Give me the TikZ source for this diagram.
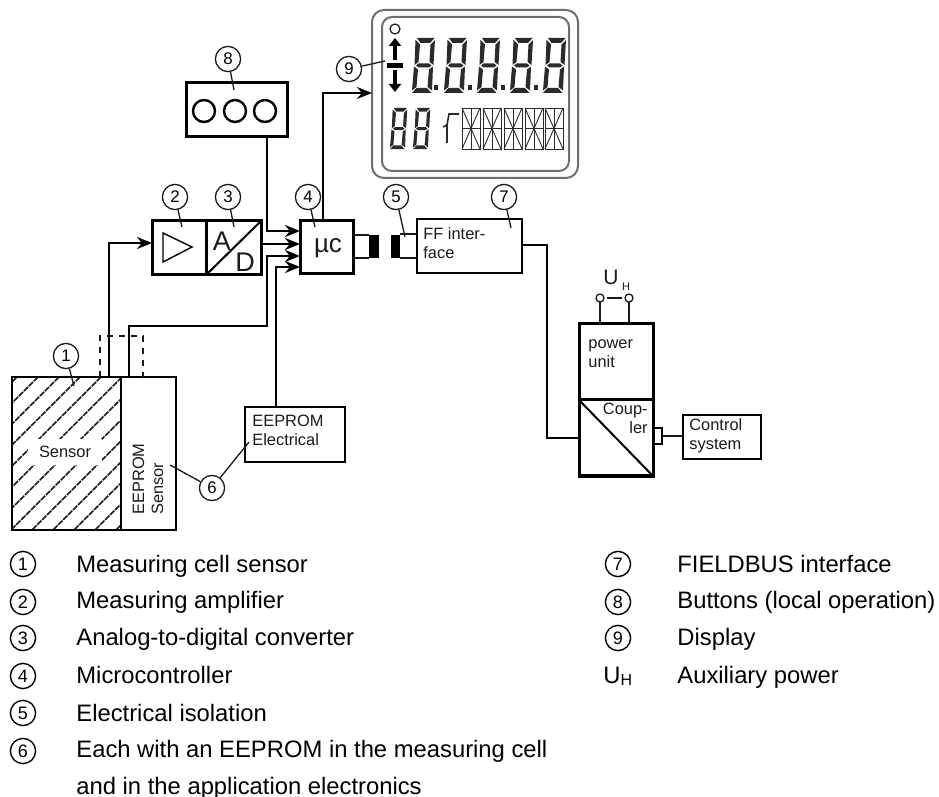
\documentclass[tikz,border=0pt]{standalone}
\usepackage{fontspec}
\setmainfont{Liberation Sans}
\usepackage{xcolor}
\usepackage{tikz}
\usetikzlibrary{arrows.meta}
\definecolor{ink}{HTML}{1A1A1A}
\definecolor{bezel}{HTML}{6E6E6E}
\definecolor{lcd}{HTML}{2B2B2B}
\tikzset{
  lab/.style={text=ink, font=\fontsize{8.2}{9.4}\selectfont, inner sep=0pt, align=left},
  legText/.style={text=black, font=\fontsize{11.9}{13}\selectfont, inner sep=0pt, anchor=base west},
  blockBox/.style={draw=black, line width=1.5pt, inner sep=0pt, outer sep=0pt},
  thinBox/.style={draw=black, line width=1.1pt, inner sep=0pt, outer sep=0pt},
  wire/.style={line width=1.4pt, draw=black},
  feed/.style={line width=1.4pt, draw=black, -{Stealth[length=7.5pt,width=6pt]}},
  thinLine/.style={line width=0.65pt, draw=ink},
  callOut/.style={circle, draw=ink, line width=0.65pt, fill=white, minimum size=12.6pt, inner sep=0pt, font=\fontsize{8.4}{9}\selectfont},
  legNum/.style={circle, draw=black, line width=0.7pt, minimum size=12.6pt, inner sep=0pt, font=\fontsize{9}{10}\selectfont},
  hatchLine/.style={line width=0.8pt, draw=ink, dash pattern=on 3pt off 0.5pt},
  term/.style={circle, draw=ink, line width=0.65pt, minimum size=4pt, inner sep=0pt, outer sep=0pt},
  btn/.style={circle, draw=black, line width=1.2pt, minimum size=11pt, inner sep=0pt}
}
\newcommand{\lcdseven}[1]{%
  \begin{scope}[#1]
  \fill[lcd] (5,0)--(22.5,0)--(18,5)--(8.5,5)--cycle;
  \fill[lcd] (3.5,2)--(8,6.5)--(6.5,24)--(2.5,27)--cycle;
  \fill[lcd] (23,2)--(18.5,6.5)--(17.5,24)--(21.5,27)--cycle;
  \fill[lcd] (4,27.5)--(6.5,25.5)--(17,25.5)--(19.5,27.5)--(17,29.5)--(6.5,29.5)--cycle;
  \fill[lcd] (2,28.5)--(6,31.5)--(4.5,49)--(0,52.5)--cycle;
  \fill[lcd] (21,28.5)--(17,31.5)--(15.5,49)--(20,52.5)--cycle;
  \fill[lcd] (0,55)--(4.5,50)--(15,50)--(19.5,55)--cycle;
  \end{scope}}
\begin{document}
\begin{tikzpicture}[x=0.5pt,y=-0.5pt]
\useasboundingbox (0,0) rectangle (939,797);

% display
\draw[bezel, line width=1pt, rounded corners=6pt] (372,10) rectangle (578,178);
\draw[bezel, line width=1pt, rounded corners=5pt] (382,17) rectangle (569,171);
\foreach \dx in {412,444,477,510,543} {
  \lcdseven{shift={(\dx,38)}}
}
\foreach \dx in {434,468,501,534} {
  \fill[lcd] (\dx,85) rectangle ({\dx+4},90);
}
\foreach \dx in {390,413} {
  \lcdseven{shift={(\dx,108)},scale=0.75}
}
\draw[lcd, line width=0.8pt] (443,127)--(447,125)--(447,143);
\draw[lcd, line width=0.8pt] (447,125)--(449,114)--(459,114);
\foreach \dx in {462,483,504,525,545} {
  \draw[lcd, line width=0.45pt] (\dx,108) rectangle ({\dx+18},149);
  \draw[lcd, line width=0.45pt] (\dx,128.5)--({\dx+18},128.5) ({\dx+9},108)--({\dx+9},149);
  \draw[lcd, line width=0.45pt] (\dx,108)--({\dx+18},149) ({\dx+18},108)--(\dx,149);
}
\node[circle, draw=ink, line width=0.6pt, minimum size=5pt, inner sep=0pt] (led) at (395,29) {};
\draw[line width=1.6pt, -{Triangle[length=4pt,width=6pt]}] (395,60)--(395,38);
\draw[line width=1.6pt, -{Triangle[length=4pt,width=6pt]}] (395,70)--(395,92);
\fill[black] (387,63) rectangle (403,68);
\coordinate (dispIn) at (372,93);

% blocks
\node[blockBox, minimum width=50.5pt, minimum height=27pt] (buttons) at (236.5,110) {};
\node[btn] (btnA) at (204,111) {};
\node[btn] (btnB) at (235,111) {};
\node[btn] (btnC) at (265,111) {};
\node[blockBox, minimum width=27pt, minimum height=27pt] (amp) at (179,248) {};
\node[blockBox, minimum width=27.5pt, minimum height=27pt] (adc) at (233.5,248) {};
\node[blockBox, minimum width=26.5pt, minimum height=26.5pt] (uc) at (326.5,247.5) {};
\node[blockBox, line width=1.4pt, minimum width=52.5pt, minimum height=27pt] (ffbox) at (469.5,246) {};
\draw[line width=0.7pt] (163,233)--(163,262)--(192,247)--cycle;
\draw[line width=1pt] (adc.south west)--(adc.north east);
\node[font=\fontsize{13.5}{14}\selectfont, text=ink, inner sep=0pt] (adcA) at (222,241) {A};
\node[font=\fontsize{13.5}{14}\selectfont, text=ink, inner sep=0pt] (adcD) at (245,262) {D};
\node[font=\fontsize{13}{14}\selectfont, text=ink, inner sep=0pt] (ucText) at (328,248) {µc};
\node[lab, anchor=north west] (ffText) at (423,227) {FF inter-\\face};

% isolation
\fill[black] (369,235) rectangle (379,258);
\fill[black] (391,235) rectangle (400,258);
\coordinate (isoA) at (369,235);
\coordinate (isoB) at (369,258);
\coordinate (isoC) at (400,234);
\coordinate (isoD) at (400,258);
\draw[thinLine] (uc.east |- isoA)--(isoA) (uc.east |- isoB)--(isoB);
\draw[thinLine] (isoC)--(ffbox.west |- isoC) (isoD)--(ffbox.west |- isoD);

% sensor
\begin{scope}
\clip (12,377) rectangle (121,530);
\foreach \c in {394,415,...,652} {
  \draw[hatchLine] ({\c-377},377)--({\c-530},530);
}
\end{scope}
\node[blockBox, line width=1.4pt, minimum width=54.5pt, minimum height=76.5pt] (sensor) at (66.5,453.5) {};
\node[blockBox, line width=1.4pt, minimum width=27.5pt, minimum height=76.5pt] (eepS) at (148.5,453.5) {};
\node[lab, fill=white, minimum width=37pt, minimum height=13pt, align=center] (sensorText) at (65,452) {Sensor};
\node[lab, rotate=90, anchor=west] (eepSText) at (148,515) {EEPROM\\Sensor};
\draw[line width=0.9pt, dashed, draw=ink] (100,377)--(100,336)--(143,336)--(143,377);
\node[blockBox, line width=1.3pt, minimum width=50pt, minimum height=27.5pt] (eepE) at (295,434.5) {};
\node[lab, anchor=north west] (eepEText) at (252,415) {EEPROM\\Electrical};

% power and coupler
\node[blockBox, minimum width=37pt, minimum height=38pt] (power) at (616,362) {};
\node[blockBox, minimum width=37pt, minimum height=38pt] (coupler) at (616,438) {};
\draw[line width=1pt] (coupler.north west)--(coupler.south east);
\node[lab, anchor=north west] (powerText) at (588,339) {power\\unit};
\node[lab, anchor=north east, align=right] (couplerText) at (648,403) {Coup-\\ler};
\node[thinBox, line width=0.9pt, minimum width=4.5pt, minimum height=8pt] (tap) at (657.5,436) {};
\node[thinBox, minimum width=39pt, minimum height=22pt] (control) at (722,437) {};
\node[lab, anchor=north west] (controlText) at (689,418) {Control\\system};
\node[term] (termA) at (600,298) {};
\node[term] (termB) at (629,298) {};
\node[text=ink, inner sep=0pt, anchor=base west, font=\fontsize{10.5}{11}\selectfont] (uhText) at (603,285) {U\,\raisebox{-3pt}{\fontsize{5.5}{6}\selectfont H}};

% connectors
\coordinate (sigOut) at (109,377);
\coordinate (eepOut) at (129,377);
\coordinate (ampIn) at (152,243);
\coordinate (ucInA) at (300,231);
\coordinate (ucInB) at (300,244);
\coordinate (ucInC) at (300,256);
\coordinate (ucInD) at (300,267);
\coordinate (bend) at (267,326);
\coordinate (ucTop) at (323,221);
\coordinate (ffOut) at (522,245);
\coordinate (busX) at (547,245);
\coordinate (busIn) at (579,438);
\draw[feed] (sigOut) |- (ampIn);
\draw[feed] (adc.east |- ucInB) -- (ucInB);
\draw[feed] (eepOut) |- (bend) |- (ucInC);
\draw[feed] (eepE.north -| 276,0) |- (ucInD);
\draw[feed] (buttons.south -| 267,0) |- (ucInA);
\draw[feed] (ucTop) |- (dispIn);
\draw[wire] (ffOut) -- (busX) |- (busIn);
\draw[thinLine] (tap.east) -- (control.west |- tap.east);
\draw[thinLine, line width=0.9pt] (termA) -- (termA |- power.north);
\draw[thinLine, line width=0.9pt] (termB) -- (termB |- power.north);
\draw[thinLine, line width=0.8pt, shorten >=1.5pt, shorten <=1.5pt] (termA) -- (termB);

% callouts
\node[callOut] (c1) at (66,356) {1};
\node[callOut] (c2) at (175,197) {2};
\node[callOut] (c3) at (228,197) {3};
\node[callOut] (c4) at (308,197) {4};
\node[callOut] (c5) at (396,197) {5};
\node[callOut] (c6) at (212,488) {6};
\node[callOut] (c7) at (504,197) {7};
\node[callOut] (c8) at (228,59) {8};
\node[callOut] (c9) at (349,69) {9};
\coordinate (c1End) at (74,386);
\coordinate (c2End) at (182,227);
\coordinate (c3End) at (234,227);
\coordinate (c4End) at (315,227);
\coordinate (c5End) at (405,237);
\coordinate (c6EndA) at (170,465);
\coordinate (c6EndB) at (249,442);
\coordinate (c7End) at (511,228);
\coordinate (c8End) at (234,90);
\coordinate (c9End) at (385,61);
\foreach \n in {1,2,3,4,5,7,8,9} {
  \draw[thinLine] (c\n) -- (c\n End);
}
\draw[thinLine] (c6) -- (c6EndA);
\draw[thinLine] (c6) -- (c6EndB);

% legend
\node[legNum] (n1) at (23,564) {1};
\node[legNum] (n2) at (23,602) {2};
\node[legNum] (n3) at (23,638) {3};
\node[legNum] (n4) at (23,676) {4};
\node[legNum] (n5) at (23,713) {5};
\node[legNum] (n6) at (23,751) {6};
\node[legNum] (n7) at (618,564) {7};
\node[legNum] (n8) at (618,602) {8};
\node[legNum] (n9) at (618,638) {9};
\node[legText] (t1) at (76,572) {Measuring cell sensor};
\node[legText] (t2) at (76,609) {Measuring amplifier};
\node[legText] (t3) at (76,646) {Analog-to-digital converter};
\node[legText] (t4) at (76,683) {Microcontroller};
\node[legText] (t5) at (76,721) {Electrical isolation};
\node[legText] (t6) at (76,757) {Each with an EEPROM in the measuring cell};
\node[legText] (t6b) at (76,794) {and in the application electronics};
\node[legText] (t7) at (677,572) {FIELDBUS interface};
\node[legText] (t8) at (677,608) {Buttons (local operation)};
\node[legText] (t9) at (677,645) {Display};
\node[legText] (tUH) at (677,683) {Auxiliary power};
\node[legText] (nUH) at (603,683) {U\raisebox{-1pt}{\fontsize{8}{9}\selectfont H}};
\end{tikzpicture}
\end{document}
